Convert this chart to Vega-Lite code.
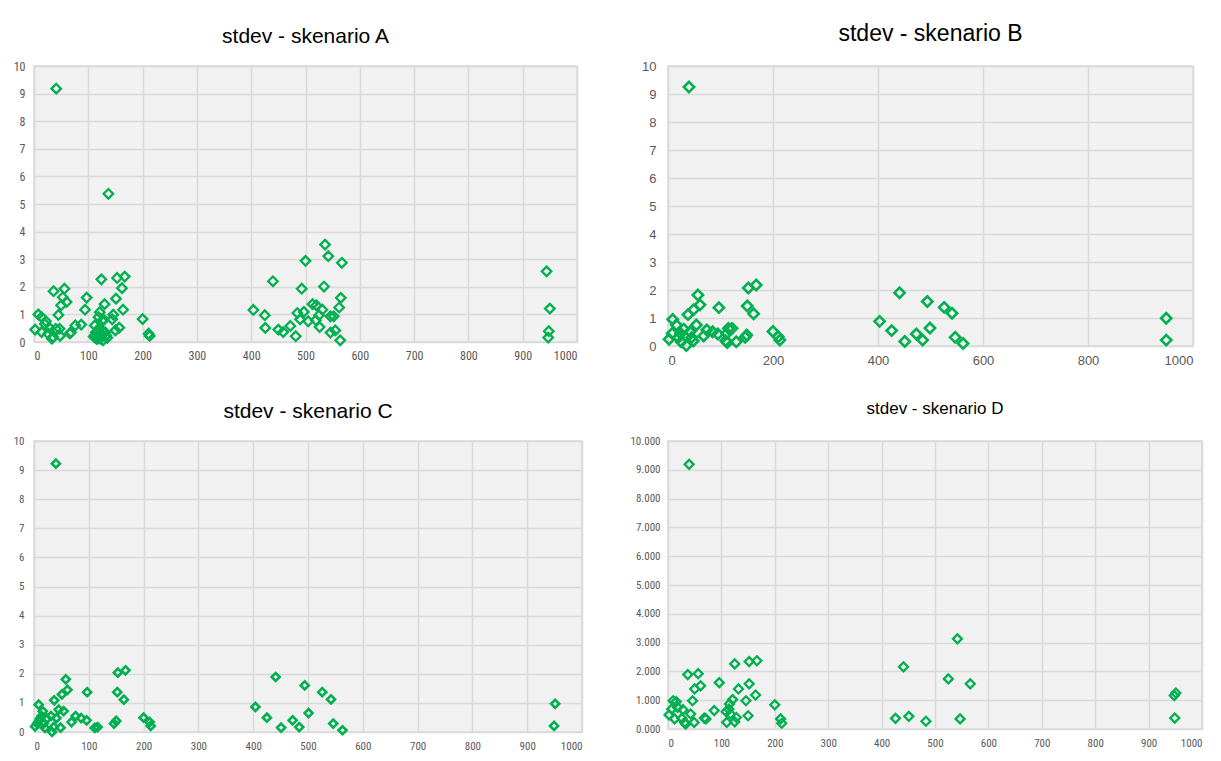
{
  "$schema": "https://vega.github.io/schema/vega-lite/v6.json",
  "background": "white",
  "padding": {"left": 12, "top": 22, "right": 10, "bottom": 5},
  "bounds": "flush",
  "columns": 2,
  "spacing": {"row": 95, "column": 86},
  "datasets": {
    "A": [
      {"x":2,"y":0.45},{"x":8,"y":1.0},{"x":14,"y":0.9},{"x":14,"y":0.36},{"x":20,"y":0.65},{"x":22,"y":0.75},{"x":26,"y":0.3},{"x":29,"y":0.5},{"x":33,"y":0.12},{"x":35,"y":0.18},{"x":36,"y":1.84},{"x":40,"y":0.48},{"x":41,"y":9.18},{"x":45,"y":0.98},{"x":47,"y":0.48},{"x":48,"y":0.22},{"x":50,"y":1.33},{"x":53,"y":1.62},{"x":56,"y":1.93},{"x":60,"y":1.45},{"x":66,"y":0.31},{"x":68,"y":0.35},{"x":76,"y":0.6},{"x":87,"y":0.63},{"x":94,"y":1.17},{"x":97,"y":1.61},{"x":110,"y":0.2},{"x":112,"y":0.6},{"x":113,"y":0.15},{"x":114,"y":0.35},{"x":116,"y":0.1},{"x":118,"y":0.25},{"x":119,"y":0.9},{"x":120,"y":0.5},{"x":121,"y":1.08},{"x":122,"y":0.12},{"x":123,"y":0.3},{"x":124,"y":2.27},{"x":125,"y":0.42},{"x":126,"y":0.75},{"x":127,"y":0.06},{"x":128,"y":0.82},{"x":130,"y":1.37},{"x":131,"y":0.35},{"x":133,"y":0.24},{"x":135,"y":0.15},{"x":137,"y":5.37},{"x":144,"y":0.82},{"x":146,"y":0.99},{"x":150,"y":0.42},{"x":151,"y":1.57},{"x":153,"y":2.32},{"x":157,"y":0.52},{"x":162,"y":1.95},{"x":164,"y":1.17},{"x":167,"y":2.37},{"x":200,"y":0.83},{"x":211,"y":0.3},{"x":213,"y":0.22},
      {"x":404,"y":1.16},{"x":425,"y":0.97},{"x":426,"y":0.51},{"x":440,"y":2.2},{"x":450,"y":0.45},{"x":459,"y":0.36},{"x":472,"y":0.58},{"x":482,"y":0.21},{"x":485,"y":1.05},{"x":490,"y":0.82},{"x":493,"y":1.93},{"x":497,"y":1.09},{"x":500,"y":2.94},{"x":505,"y":0.75},{"x":513,"y":1.37},{"x":519,"y":0.79},{"x":520,"y":1.33},{"x":525,"y":0.97},{"x":526,"y":0.54},{"x":531,"y":1.17},{"x":534,"y":2.01},{"x":536,"y":3.53},{"x":542,"y":3.11},{"x":546,"y":0.34},{"x":546,"y":0.93},{"x":552,"y":0.93},{"x":555,"y":0.42},{"x":562,"y":1.25},{"x":564,"y":0.06},{"x":565,"y":1.6},{"x":567,"y":2.87},
      {"x":944,"y":2.56},{"x":950,"y":1.21},{"x":948,"y":0.39},{"x":947,"y":0.16}
    ],
    "B": [
      {"x":2,"y":0.24},{"x":8,"y":0.45},{"x":9,"y":0.95},{"x":16,"y":0.75},{"x":20,"y":0.3},{"x":24,"y":0.45},{"x":25,"y":0.15},{"x":30,"y":0.6},{"x":35,"y":0.02},{"x":38,"y":1.12},{"x":40,"y":9.25},{"x":42,"y":0.51},{"x":45,"y":0.3},{"x":48,"y":0.18},{"x":49,"y":1.3},{"x":54,"y":0.75},{"x":57,"y":1.82},{"x":61,"y":1.47},{"x":68,"y":0.36},{"x":74,"y":0.57},{"x":85,"y":0.51},{"x":95,"y":0.43},{"x":97,"y":1.37},{"x":110,"y":0.19},{"x":112,"y":0.45},{"x":113,"y":0.12},{"x":115,"y":0.63},{"x":122,"y":0.63},{"x":130,"y":0.15},{"x":147,"y":0.31},{"x":150,"y":0.39},{"x":151,"y":1.43},{"x":153,"y":2.07},{"x":163,"y":1.15},{"x":168,"y":2.18},{"x":200,"y":0.52},{"x":210,"y":0.33},{"x":213,"y":0.21},
      {"x":403,"y":0.88},{"x":426,"y":0.55},{"x":441,"y":1.9},{"x":451,"y":0.16},{"x":473,"y":0.43},{"x":485,"y":0.21},{"x":494,"y":1.59},{"x":499,"y":0.64},{"x":526,"y":1.38},{"x":541,"y":1.17},{"x":547,"y":0.31},{"x":562,"y":0.09},{"x":949,"y":0.99},{"x":949,"y":0.21}
    ],
    "C": [
      {"x":2,"y":0.19},{"x":6,"y":0.3},{"x":8.5,"y":0.94},{"x":10,"y":0.4},{"x":11,"y":0.46},{"x":14,"y":0.55},{"x":16,"y":0.71},{"x":18,"y":0.3},{"x":20,"y":0.14},{"x":23.5,"y":0.46},{"x":31,"y":0.55},{"x":33,"y":0.0},{"x":36,"y":0.17},{"x":37,"y":1.09},{"x":40,"y":9.22},{"x":41,"y":0.48},{"x":45,"y":0.77},{"x":48.5,"y":0.15},{"x":51,"y":1.29},{"x":54,"y":0.72},{"x":58,"y":1.81},{"x":61,"y":1.45},{"x":68.5,"y":0.34},{"x":76,"y":0.55},{"x":86,"y":0.48},{"x":96,"y":0.4},{"x":97,"y":1.37},{"x":111,"y":0.14},{"x":116,"y":0.17},{"x":146,"y":0.29},{"x":150,"y":0.38},{"x":152,"y":1.37},{"x":153,"y":2.04},{"x":164,"y":1.11},{"x":167,"y":2.12},{"x":200,"y":0.49},{"x":211,"y":0.34},{"x":213,"y":0.21},
      {"x":404,"y":0.86},{"x":425,"y":0.49},{"x":441,"y":1.89},{"x":451,"y":0.15},{"x":472,"y":0.4},{"x":484,"y":0.17},{"x":494,"y":1.6},{"x":501,"y":0.65},{"x":526,"y":1.37},{"x":542,"y":1.12},{"x":546,"y":0.29},{"x":563,"y":0.06},{"x":951,"y":0.97},{"x":949,"y":0.21}
    ],
    "D": [
      {"x":2,"y":0.49},{"x":7,"y":0.69},{"x":9.5,"y":0.98},{"x":12.5,"y":0.35},{"x":15.5,"y":0.95},{"x":18,"y":0.75},{"x":26,"y":0.37},{"x":28,"y":0.67},{"x":31.5,"y":0.23},{"x":33,"y":0.17},{"x":37,"y":1.89},{"x":39.6,"y":9.19},{"x":42.5,"y":0.52},{"x":46,"y":0.98},{"x":49,"y":0.23},{"x":50,"y":1.39},{"x":56.5,"y":1.92},{"x":61,"y":1.5},{"x":68,"y":0.38},{"x":71,"y":0.35},{"x":86.5,"y":0.64},{"x":96,"y":1.61},{"x":109,"y":0.6},{"x":110,"y":0.23},{"x":114,"y":0.69},{"x":115,"y":0.87},{"x":117,"y":0.52},{"x":121,"y":1.02},{"x":125,"y":2.26},{"x":125,"y":0.25},{"x":128,"y":0.4},{"x":132,"y":1.39},{"x":146,"y":0.98},{"x":150,"y":0.46},{"x":152,"y":1.57},{"x":152,"y":2.34},{"x":164,"y":1.18},{"x":166.5,"y":2.37},{"x":200,"y":0.84},{"x":211,"y":0.35},{"x":213,"y":0.2},
      {"x":426,"y":0.37},{"x":441,"y":2.16},{"x":451,"y":0.44},{"x":483,"y":0.27},{"x":525,"y":1.74},{"x":542,"y":3.13},{"x":547,"y":0.35},{"x":566,"y":1.57},{"x":948,"y":1.16},{"x":951,"y":1.25},{"x":949,"y":0.38}
    ]
  },
  "config": {
    "view": {"fill": "#f1f1f1", "stroke": "#d9d9d9", "strokeWidth": 1.5},
    "axis": {"grid": true, "gridColor": "#d9d9d9", "gridWidth": 1.5, "domain": false, "ticks": false, "labelColor": "#595959", "labelFont": "Liberation Sans Narrow, Roboto Condensed, Liberation Sans, sans-serif"},
    "title": {"font": "Liberation Sans Narrow, Liberation Sans, sans-serif", "fontWeight": "normal", "color": "#000000", "anchor": "middle"}
  },
  "concat": [
    {
      "width": 543, "height": 276,
      "title": {"text": "stdev - skenario A", "fontSize": 21, "offset": 13},
      "data": {"name": "A"},
      "mark": {"type": "point", "shape": "diamond", "filled": false, "color": "#00b050", "strokeWidth": 2.3, "size": 90, "opacity": 1},
      "encoding": {
        "x": {"field": "x", "type": "quantitative", "title": null, "scale": {"domain": [0, 1000], "nice": false}, "axis": {"values": [0,100,200,300,400,500,600,700,800,900,1000], "format": "d", "labelFontSize": 12, "labelPadding": 8}},
        "y": {"field": "y", "type": "quantitative", "title": null, "scale": {"domain": [0, 10], "nice": false}, "axis": {"values": [0,1,2,3,4,5,6,7,8,9,10], "labelFontSize": 12, "labelPadding": 9}}
      }
    },
    {
      "width": 525, "height": 280,
      "title": {"text": "stdev - skenario B", "fontSize": 23, "offset": 14, "font": "Liberation Sans, sans-serif"},
      "data": {"name": "B"},
      "mark": {"type": "point", "shape": "diamond", "filled": false, "color": "#00b050", "strokeWidth": 2.6, "size": 105, "opacity": 1},
      "encoding": {
        "x": {"field": "x", "type": "quantitative", "title": null, "scale": {"domain": [0, 1000], "nice": false}, "axis": {"values": [0,200,400,600,800,1000], "format": "d", "labelFontSize": 13, "labelFont": "Liberation Sans, sans-serif", "labelPadding": 8}},
        "y": {"field": "y", "type": "quantitative", "title": null, "scale": {"domain": [0, 10], "nice": false}, "axis": {"values": [0,1,2,3,4,5,6,7,8,9,10], "labelFontSize": 13, "labelFont": "Liberation Sans, sans-serif", "labelPadding": 12}}
      }
    },
    {
      "width": 548, "height": 291,
      "title": {"text": "stdev  - skenario C", "fontSize": 21, "offset": 13},
      "data": {"name": "C"},
      "mark": {"type": "point", "shape": "diamond", "filled": false, "color": "#00b050", "strokeWidth": 2.6, "size": 65, "opacity": 1},
      "encoding": {
        "x": {"field": "x", "type": "quantitative", "title": null, "scale": {"domain": [0, 1000], "nice": false}, "axis": {"values": [0,100,200,300,400,500,600,700,800,900,1000], "format": "d", "labelFontSize": 11, "labelPadding": 8}},
        "y": {"field": "y", "type": "quantitative", "title": null, "scale": {"domain": [0, 10], "nice": false}, "axis": {"values": [0,1,2,3,4,5,6,7,8,9,10], "labelFontSize": 11, "labelPadding": 10}}
      }
    },
    {
      "width": 534, "height": 288,
      "title": {"text": "stdev - skenario D", "fontSize": 17, "offset": 17},
      "data": {"name": "D"},
      "mark": {"type": "point", "shape": "diamond", "filled": false, "color": "#00b050", "strokeWidth": 2.3, "size": 80, "opacity": 1},
      "encoding": {
        "x": {"field": "x", "type": "quantitative", "title": null, "scale": {"domain": [0, 1000], "nice": false}, "axis": {"values": [0,100,200,300,400,500,600,700,800,900,1000], "format": "d", "labelFontSize": 11, "labelPadding": 8}},
        "y": {"field": "y", "type": "quantitative", "title": null, "scale": {"domain": [0, 10], "nice": false}, "axis": {"values": [0,1,2,3,4,5,6,7,8,9,10], "format": ".3f", "labelFontSize": 11, "labelPadding": 8}}
      }
    }
  ]
}
